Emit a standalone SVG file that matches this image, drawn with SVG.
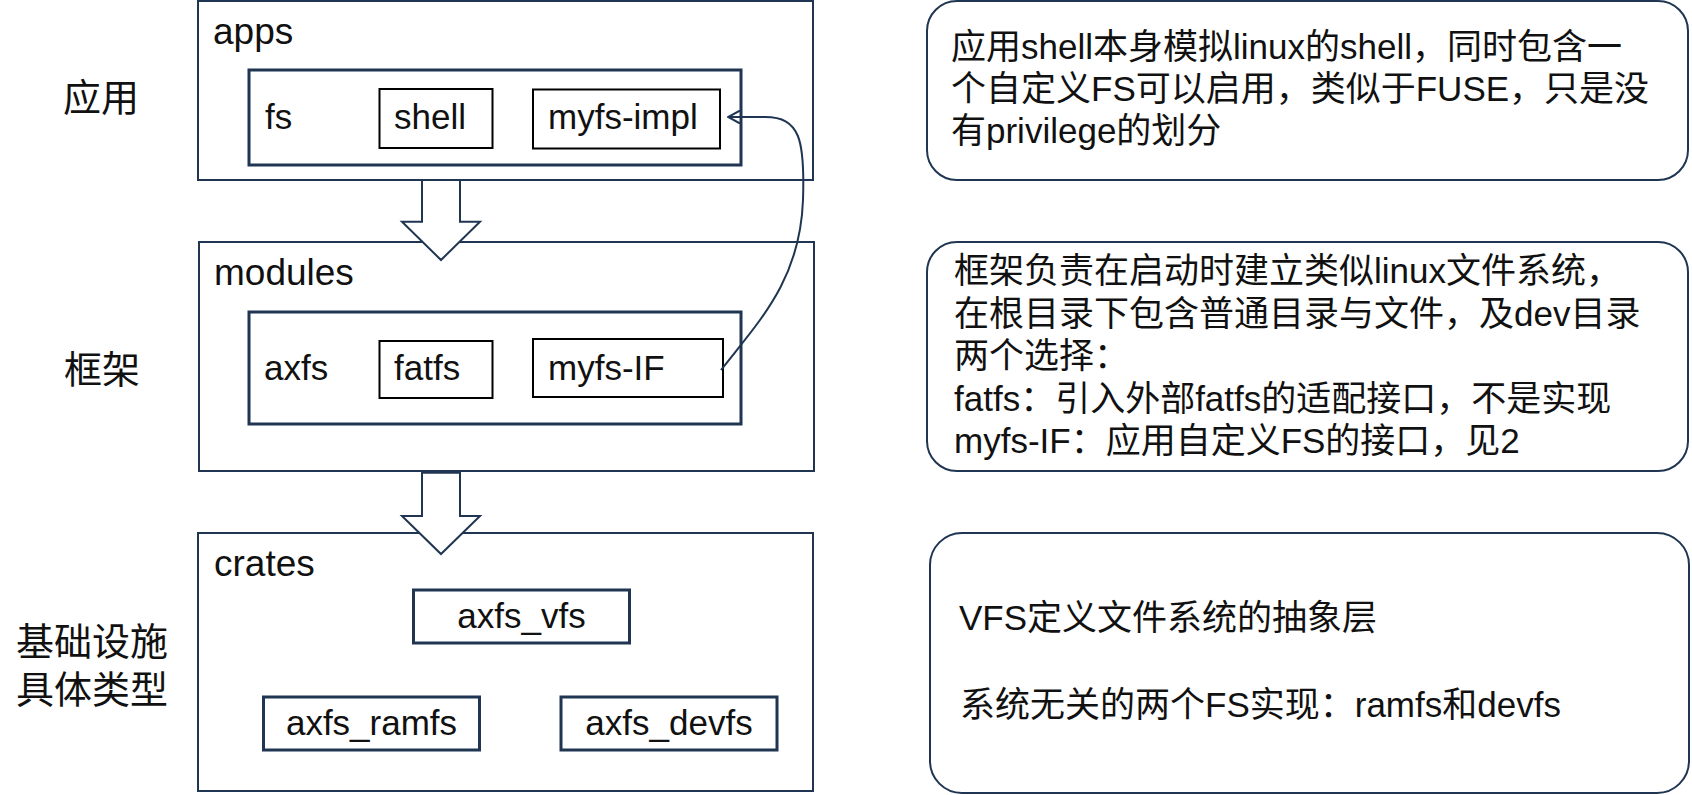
<svg xmlns="http://www.w3.org/2000/svg" width="1692" height="795" viewBox="0 0 1692 795">
<defs>
<style>
.outer{fill:none;stroke:#1f3552;stroke-width:2}
.inner{fill:none;stroke:#1f3552;stroke-width:3}
.small{fill:none;stroke:#000;stroke-width:2}
.crate{fill:none;stroke:#1f3552;stroke-width:3}
.note{fill:#fff;stroke:#1f3552;stroke-width:2}
.blk{fill:#fff;stroke:#1f3552;stroke-width:2;stroke-linejoin:miter}
.conn{fill:none;stroke:#1f3552;stroke-width:2}
text{font-family:"Liberation Sans","Noto Sans CJK SC",sans-serif;fill:#111}
.title{font-size:37px}
.lbl{font-size:35px}
.side{font-size:38px}
.desc{font-size:35px}
</style>
<marker id="open" viewBox="0 0 14 14" refX="13" refY="7" markerWidth="14" markerHeight="14" markerUnits="userSpaceOnUse" orient="auto">
<path d="M1,0.5 L13,7 L1,13.5" fill="none" stroke="#1f3552" stroke-width="2"/>
</marker>
</defs>
<rect width="1692" height="795" fill="#fff"/>

<g id="side-labels">
<text class="side" x="63" y="111">应用</text>
<text class="side" x="64" y="383">框架</text>
<text class="side" x="16" y="655">基础设施</text>
<text class="side" x="16" y="703">具体类型</text>
</g>

<g id="apps">
<rect class="outer" x="198" y="1" width="615" height="179"/>
<text class="title" x="213" y="44">apps</text>
</g>
<g id="fs">
<rect class="inner" x="249" y="70" width="492" height="95"/>
<text class="lbl" x="265" y="129">fs</text>
</g>
<g id="shell">
<rect class="small" x="379.5" y="89" width="113" height="59"/>
<text class="lbl" x="394" y="129">shell</text>
</g>
<g id="myfs-impl">
<rect class="small" x="533" y="89.5" width="187" height="59"/>
<text class="lbl" x="548" y="129">myfs-impl</text>
</g>

<g id="modules">
<rect class="outer" x="199" y="242" width="615" height="229"/>
<text class="title" x="214" y="285">modules</text>
</g>
<g id="axfs">
<rect class="inner" x="249" y="312" width="492" height="112"/>
<text class="lbl" x="264" y="380">axfs</text>
</g>
<g id="fatfs">
<rect class="small" x="379.5" y="341" width="113" height="57"/>
<text class="lbl" x="394" y="380">fatfs</text>
</g>
<g id="myfs-IF">
<rect class="small" x="533" y="339" width="190" height="58"/>
<text class="lbl" x="548" y="380">myfs-IF</text>
</g>

<g id="crates">
<rect class="outer" x="198" y="533" width="615" height="258"/>
<text class="title" x="214" y="576">crates</text>
</g>
<g id="axfs_vfs">
<rect class="crate" x="413.5" y="590" width="216" height="53"/>
<text class="lbl" x="521.5" y="628" text-anchor="middle">axfs_vfs</text>
</g>
<g id="axfs_ramfs">
<rect class="crate" x="263.5" y="697" width="216" height="53"/>
<text class="lbl" x="371.5" y="735" text-anchor="middle">axfs_ramfs</text>
</g>
<g id="axfs_devfs">
<rect class="crate" x="561" y="697" width="216" height="53"/>
<text class="lbl" x="669" y="735" text-anchor="middle">axfs_devfs</text>
</g>

<g id="connectors">
<polygon class="blk" points="422,180 460,180 460,221.7 480,221.7 441,260 402,221.7 422,221.7"/>
<polygon class="blk" points="422,472.7 460,472.7 460,516 480,516 441,554 402,516 422,516"/>
<path class="conn" d="M721,370 C760,320 800,280 803,200 C805,140 800,117 765,117 L728,117" marker-end="url(#open)"/>
</g>

<g id="note-apps">
<rect class="note" x="927" y="1" width="761" height="179" rx="30" ry="30"/>
<text class="desc" x="951" y="59">应用shell本身模拟linux的shell，同时包含一</text>
<text class="desc" x="951" y="101">个自定义FS可以启用，类似于FUSE，只是没</text>
<text class="desc" x="951" y="143">有privilege的划分</text>
</g>
<g id="note-modules">
<rect class="note" x="927" y="242" width="761" height="229" rx="30" ry="30"/>
<text class="desc" x="954" y="283">框架负责在启动时建立类似linux文件系统，</text>
<text class="desc" x="954" y="325.5">在根目录下包含普通目录与文件，及dev目录</text>
<text class="desc" x="954" y="368">两个选择：</text>
<text class="desc" x="954" y="410.5">fatfs：引入外部fatfs的适配接口，不是实现</text>
<text class="desc" x="954" y="453">myfs-IF：应用自定义FS的接口，见2</text>
</g>
<g id="note-crates">
<rect class="note" x="930" y="533" width="759" height="260" rx="32" ry="32"/>
<text class="desc" x="959" y="630">VFS定义文件系统的抽象层</text>
<text class="desc" x="960" y="717">系统无关的两个FS实现：ramfs和devfs</text>
</g>
</svg>
